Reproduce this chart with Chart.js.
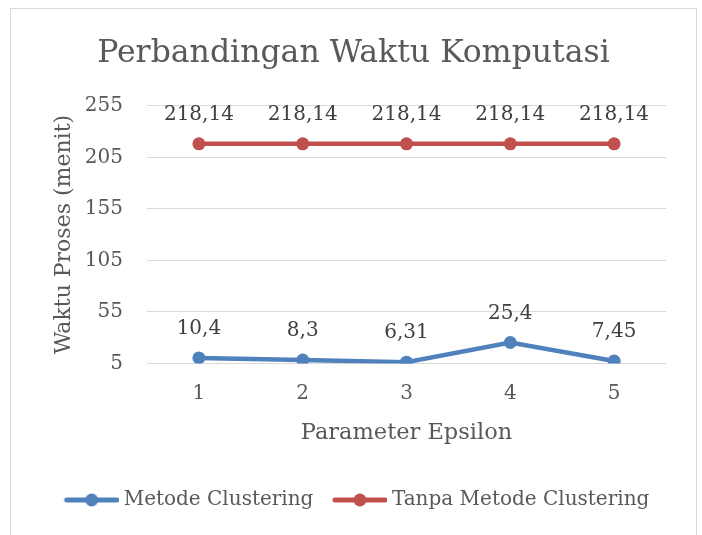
<!DOCTYPE html>
<html><head><meta charset="utf-8">
<script src="https://cdn.jsdelivr.net/npm/chart.js@4.4.1/dist/chart.umd.min.js"></script>
<style>
html,body{margin:0;padding:0;background:#fff;}
#box{position:absolute;left:10px;top:8px;width:687px;height:540px;border:1px solid #d9d9d9;box-sizing:border-box;}
#wrap{position:absolute;left:10px;top:8px;width:687px;height:527px;}
</style></head><body>
<div id="box"></div>
<div id="wrap"><canvas id="c"></canvas></div>
<script>
const categories = ['1', '2', '3', '4', '5'];
const metodeClustering = [10.4, 8.3, 6.31, 25.4, 7.45];
const tanpaMetodeClustering = [218.14, 218.14, 218.14, 218.14, 218.14];
const seriesNames = ['Metode Clustering', 'Tanpa Metode Clustering'];
const yMin = 5, yMax = 255, yStep = 50;

const FONT = "'DejaVu Serif', serif";
const TXT = '#595959';

function legendMarker(color) {
  const cv = document.createElement('canvas');
  cv.width = 66; cv.height = 16;
  const g = cv.getContext('2d');
  g.strokeStyle = color; g.lineWidth = 5; g.lineCap = 'round';
  g.beginPath(); g.moveTo(14, 8); g.lineTo(64, 8); g.stroke();
  g.fillStyle = color; g.beginPath(); g.arc(39, 8, 6.5, 0, Math.PI * 2); g.fill();
  return cv;
}

const colors = ['#4F81BD', '#C0504D'];
const markers = colors.map(legendMarker);

const dataLabels = {
  id: 'dataLabels',
  afterDatasetsDraw(chart) {
    const ctx = chart.ctx;
    ctx.save();
    ctx.font = '20px ' + FONT;
    ctx.fillStyle = '#404040';
    ctx.textAlign = 'center';
    ctx.textBaseline = 'middle';
    chart.data.datasets.forEach((ds, i) => {
      chart.getDatasetMeta(i).data.forEach((pt, j) => {
        ctx.fillText(String(ds.data[j]).replace('.', ','), pt.x, pt.y - 29);
      });
    });
    ctx.restore();
  }
};

new Chart(document.getElementById('c'), {
  type: 'line',
  data: {
    labels: categories,
    datasets: [
      { label: seriesNames[0], data: metodeClustering, borderColor: colors[0], backgroundColor: colors[0],
        borderWidth: 4.5, pointRadius: 6.5, pointHoverRadius: 6.5, pointBorderWidth: 0, tension: 0 },
      { label: seriesNames[1], data: tanpaMetodeClustering, borderColor: colors[1], backgroundColor: colors[1],
        borderWidth: 4.5, pointRadius: 6.5, pointHoverRadius: 6.5, pointBorderWidth: 0, tension: 0 }
    ]
  },
  options: {
    responsive: true, maintainAspectRatio: false, animation: false,
    layout: { padding: { left: 0, right: 0, top: 0, bottom: 15 } },
    plugins: {
      title: { display: true, text: 'Perbandingan Waktu Komputasi', color: TXT,
        font: { family: FONT, size: 31.5, weight: 'normal' }, padding: { top: 27, bottom: 33 } },
      legend: { position: 'bottom',
        labels: { usePointStyle: true, pointStyleWidth: 56, padding: 12.5, color: TXT,
          font: { family: FONT, size: 20 },
          generateLabels(chart) {
            const items = Chart.defaults.plugins.legend.labels.generateLabels(chart);
            items.forEach((it, i) => { it.pointStyle = markers[i]; });
            return items;
          } } },
      tooltip: { enabled: false }
    },
    scales: {
      x: { offset: true, grid: { display: false, drawTicks: false }, border: { display: false },
        ticks: { color: TXT, font: { family: FONT, size: 20 }, padding: 18 },
        title: { display: true, text: 'Parameter Epsilon', color: TXT, font: { family: FONT, size: 22.5 }, padding: { top: 10, bottom: 30.5 } },
        afterFit(s) { s.height = 114; } },
      y: { min: yMin, max: yMax,
        grid: { color: '#d9d9d9', lineWidth: 1, drawTicks: false }, border: { display: false },
        ticks: { stepSize: yStep, color: TXT, font: { family: FONT, size: 20 }, padding: 24 },
        title: { display: true, text: 'Waktu Proses (menit)', color: TXT, font: { family: FONT, size: 22 }, padding: { top: 41 } },
        afterFit(s) { s.width = 137; } },
      yRight: { type: 'linear', position: 'right', display: true,
        grid: { display: false, drawTicks: false }, border: { display: false },
        ticks: { display: false },
        afterFit(s) { s.width = 31; } }
    }
  },
  plugins: [dataLabels]
});
</script>
</body></html>
